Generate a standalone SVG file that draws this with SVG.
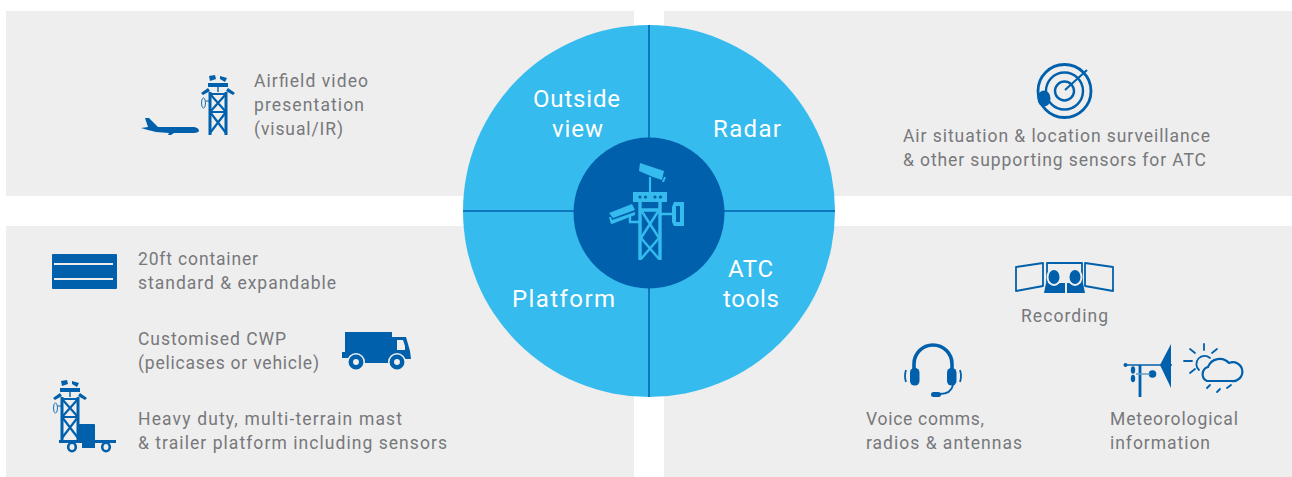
<svg xmlns="http://www.w3.org/2000/svg" width="1292" height="477" viewBox="0 0 1292 477">
<style>
.p{fill:#eeeeee}
.t{font-family:"Roboto","Liberation Sans",sans-serif;font-size:17.5px;fill:#77787b}
.w{font-family:"Roboto","Liberation Sans",sans-serif;font-size:24px;fill:#fff}
.b{fill:#0060ac}
.s{fill:none;stroke:#0060ac;stroke-linejoin:round}
.c{fill:#35bbee}
.k{fill:none;stroke:#35bbee}
.g{fill:#eeeeee}
.r{fill:#eeeeee;stroke:#0060ac}
</style>
<defs>
<symbol id="tower" overflow="visible">
<g class="s" stroke-width="2.200">
<path d="M10 92V135M26 92V135" stroke-width="3"/>
<path d="M9 94H27M10 112H26" stroke-width="2"/>
<path d="M10 94L26 112M26 94L10 112M10 112L26 133M26 112L10 133"/>
<path d="M18 85V92" stroke-width="1.400"/>
<ellipse cx="3.500" cy="103" rx="2" ry="5" stroke-width="0.900"/>
<path d="M6 101H9" stroke-width="1"/>
</g>
<path class="b" d="M8 83h20v4h-20zM9 76l6-1 1 4-6 2zM20 76l7 2-2 4-5-3zM1 93l7-5 2 3-7 4zM28 88l7 5-2 2-7-4z"/>
</symbol>
</defs>

<g id="panels">
<rect class="p" x="6" y="11" width="628" height="185"/>
<rect class="p" x="664" y="11" width="628" height="185"/>
<rect class="p" x="6" y="226" width="628" height="251"/>
<rect class="p" x="664" y="226" width="628" height="251"/>
</g>

<g id="hub">
<circle class="c" cx="649" cy="211" r="186"/>
<path d="M649 25V397M463 211H835" stroke="#0060ac" stroke-width="1.500" fill="none"/>
<circle cx="649" cy="213" r="75.500" fill="#0060ac"/>
<g id="hub-tower">
<rect class="c" x="633" y="192" width="34" height="10"/>
<g fill="#0060ac"><circle cx="640" cy="197" r="1.600"/><circle cx="645.500" cy="197" r="1.600"/><circle cx="655" cy="197" r="1.600"/><circle cx="660.500" cy="197" r="1.600"/></g>
<path class="k" stroke-width="3.400" d="M640 202V260M660 202V260M640 210H660"/>
<path class="k" stroke-width="2.400" d="M641 210L659 238M659 210L641 238M641 238L659 259M659 238L641 259"/>
<path class="k" stroke-width="2.200" d="M650 192V177"/>
<path class="c" d="M640 163l24 8-2 9-9-3-14-6zM664 177l2 0-2 5-2 0z"/>
<path class="c" d="M609 213l23-9 3 6-22 8zM612 220l23-8 0 3-23 9zM609 217l2 0 2 6-2 1z"/>
<path class="k" stroke-width="2.400" d="M630 216v6h10M660 214h12"/>
<path class="c" d="M674 202H684V226H674L672 222V207ZM676 206V222H680V206Z" fill-rule="evenodd"/>
</g>
<text class="w" x="533" y="107" textLength="87">Outside</text>
<text class="w" x="552" y="137" textLength="51">view</text>
<text class="w" x="713" y="137" textLength="68">Radar</text>
<text class="w" x="728" y="277" textLength="45">ATC</text>
<text class="w" x="723" y="307" textLength="56">tools</text>
<text class="w" x="512" y="307" textLength="103">Platform</text>
</g>

<g id="airfield">
<use href="#tower" x="200" y="0"/>
<path class="b" d="M141 128L148 127 145 118 149 118 158 127H192C197 127 199 129 199 131 198 133 194 133 190 133H174L171 135H168L169 133 156 132 148 130Z"/>
<text class="t" x="254" y="87" textLength="114">Airfield video</text>
<text class="t" x="254" y="111" textLength="110">presentation</text>
<text class="t" x="254" y="135" textLength="89">(visual/IR)</text>
</g>

<g id="radar">
<g class="s">
<circle cx="1064.500" cy="91" r="26.500" stroke-width="2.800"/>
<circle cx="1064.500" cy="91" r="18.500" stroke-width="2.400"/>
<circle cx="1064.500" cy="91" r="9.500" stroke-width="2.400"/>
<path d="M1065 90L1087 70" stroke-width="2"/>
</g>
<ellipse class="b" cx="1044" cy="98.500" rx="6.500" ry="8"/>
<text class="t" x="903" y="142" textLength="307">Air situation &amp; location surveillance</text>
<text class="t" x="903" y="166" textLength="303">&amp; other supporting sensors for ATC</text>
</g>

<g id="container">
<rect class="b" x="52" y="254" width="65" height="35" rx="1"/>
<path d="M54 264H113M54 279H113" stroke="#eeeeee" stroke-width="2"/>
<text class="t" x="138" y="265" textLength="120">20ft container</text>
<text class="t" x="138" y="289" textLength="198">standard &amp; expandable</text>
</g>

<g id="cwp">
<rect class="b" x="345" y="332" width="47" height="24"/>
<rect class="b" x="342" y="352" width="12" height="6"/>
<rect class="b" x="350" y="355" width="50" height="8"/>
<path class="b" d="M392 337H406L410 351 411 359H392Z"/>
<path class="g" d="M397 340h6l2 6v4h-8z"/>
<circle class="g" cx="356" cy="362" r="9"/>
<circle class="g" cx="397" cy="362" r="9"/>
<circle class="r" cx="356" cy="362" r="5.200" stroke-width="4.500"/>
<circle class="r" cx="397" cy="362" r="5.200" stroke-width="4.500"/>
<text class="t" x="138" y="345" textLength="148">Customised CWP</text>
<text class="t" x="138" y="369" textLength="181">(pelicases or vehicle)</text>
</g>

<g id="mast">
<use href="#tower" x="52" y="305"/>
<rect class="b" x="77" y="424" width="18" height="17" rx="1"/>
<rect class="b" x="59" y="440" width="57" height="3"/>
<rect class="b" x="82" y="443" width="13" height="5"/>
<ellipse class="r" cx="72" cy="447" rx="3.800" ry="4.200" stroke-width="2.600"/>
<ellipse class="r" cx="106" cy="447" rx="3.800" ry="4.200" stroke-width="2.600"/>
<text class="t" x="138" y="425" textLength="264">Heavy duty, multi-terrain mast</text>
<text class="t" x="138" y="449" textLength="309">&amp; trailer platform including sensors</text>
</g>

<g id="recording">
<path class="s" stroke-width="1.800" d="M1016 267L1043 263V286L1016 291ZM1047 285V263H1082V285M1085 263L1113 267V291L1085 286Z"/>
<path class="b" d="M1044 293L1046 283H1065V293ZM1067 293V283H1083L1085 293Z"/>
<ellipse class="g" cx="1054" cy="277" rx="7.500" ry="9"/>
<ellipse class="g" cx="1075" cy="277" rx="7.500" ry="9"/>
<ellipse class="b" cx="1054" cy="277" rx="5.500" ry="7"/>
<ellipse class="b" cx="1075" cy="277" rx="5.500" ry="7"/>
<text class="t" x="1021" y="322" textLength="87">Recording</text>
</g>

<g id="voice">
<path class="s" stroke-width="3.600" d="M914 369V364A19 19 0 0 1 952 364V369"/>
<rect class="b" x="910" y="368" width="9.500" height="17.500" rx="4.500"/>
<rect class="b" x="947" y="368" width="9.500" height="17.500" rx="4.500"/>
<path class="s" stroke-width="1.800" d="M906 370Q904 376 906 382M960 370Q962 376 960 382"/>
<path class="s" stroke-width="1.800" d="M953 385Q951 394 940 394"/>
<rect class="b" x="931" y="392" width="10" height="5" rx="2.500"/>
<text class="t" x="866" y="425" textLength="118">Voice comms,</text>
<text class="t" x="866" y="449" textLength="156">radios &amp; antennas</text>
</g>

<g id="meteo">
<path class="s" stroke-width="1.600" d="M1124 365H1172"/>
<path class="s" stroke-width="2.800" d="M1140 365V397"/>
<circle class="b" cx="1125.500" cy="365" r="2"/>
<path class="b" d="M1171 344V388L1160 365Z"/>
<circle class="b" cx="1152.500" cy="374" r="3.800"/>
<path d="M1136 374H1150" stroke="#5e9ccd" stroke-width="1.500"/>
<ellipse class="b" cx="1133" cy="370" rx="2.200" ry="3.800"/>
<ellipse class="b" cx="1133" cy="378.500" rx="2.200" ry="3.800"/>
<g class="s" stroke-width="2.200" stroke-linecap="round">
<path d="M1207 381H1231A9.500 9.500 0 1 0 1229 363A12.500 12.500 0 0 0 1208 367A7.500 7.500 0 0 0 1207 381Z"/>
<path stroke-width="1.800" d="M1210 358A8 8 0 0 0 1199 370"/>
<path stroke-width="1.800" d="M1204 344V350M1190 349L1195 353M1217 349L1212 353M1184 361H1192M1190 373L1195 369M1210 385L1207 388M1220 389L1217 392M1231 385L1227 388"/>
</g>
<text class="t" x="1110" y="425" textLength="128">Meteorological</text>
<text class="t" x="1110" y="449" textLength="100">information</text>
</g>
</svg>
